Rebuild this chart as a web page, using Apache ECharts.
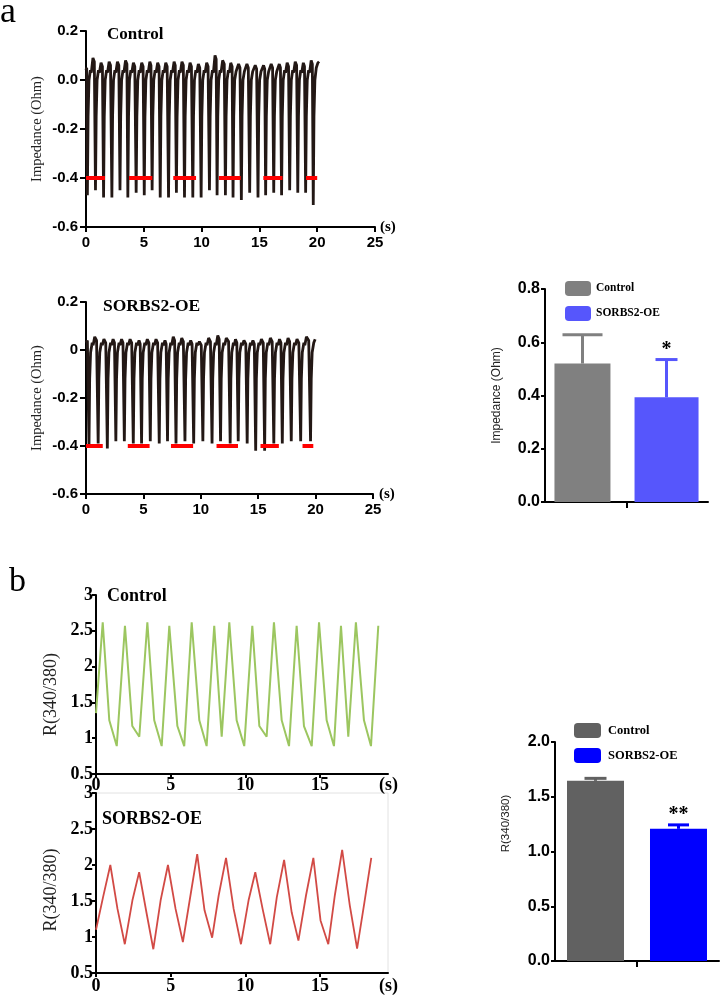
<!DOCTYPE html>
<html><head><meta charset="utf-8">
<script src="https://cdn.jsdelivr.net/npm/echarts@6/dist/echarts.min.js"></script>
<style>html,body{margin:0;padding:0;background:#fff}#c{width:722px;height:995px}</style>
</head><body><div id="c"></div>
<script>
const SERIF = "'Liberation Serif','Times New Roman',serif";
const SANS = "'Liberation Sans',Arial,Helvetica,sans-serif";

// ---------- data ----------
const groups = ['Control', 'SORBS2-OE'];

// Panel a: impedance traces [time (s), impedance (Ohm)]
const ctrlImpedance = [
[0,0.04],[0.06,0.05],
[0.12,-0.47],[0.18,-0.15],[0.26,0.0],[0.38,0.04],[0.46,0.03],[0.60,0.09],[0.72,0.075],
[0.82,-0.45],[0.88,-0.15],[0.96,0.0],[1.08,0.04],[1.16,0.03],[1.30,0.07],[1.42,0.055],
[1.52,-0.48],[1.58,-0.15],[1.66,0.0],[1.78,0.04],[1.86,0.03],[2.00,0.075],[2.12,0.06],
[2.24,-0.48],[2.30,-0.15],[2.38,0.0],[2.50,0.04],[2.58,0.03],[2.72,0.075],[2.84,0.06],
[2.94,-0.45],[3.00,-0.15],[3.08,0.0],[3.20,0.04],[3.28,0.03],[3.42,0.08],[3.54,0.065],
[3.62,-0.48],[3.68,-0.15],[3.76,0.0],[3.88,0.04],[3.96,0.03],[4.10,0.07],[4.22,0.055],
[4.34,-0.46],[4.40,-0.15],[4.48,0.0],[4.60,0.04],[4.68,0.03],[4.82,0.07],[4.94,0.055],
[5.04,-0.47],[5.10,-0.15],[5.18,0.0],[5.30,0.04],[5.38,0.03],[5.52,0.075],[5.62,0.06],
[5.72,-0.45],[5.78,-0.15],[5.86,0.0],[5.98,0.04],[6.06,0.03],[6.20,0.07],[6.32,0.055],
[6.42,-0.48],[6.48,-0.15],[6.56,0.0],[6.68,0.04],[6.76,0.03],[6.90,0.07],[7.02,0.055],
[7.14,-0.48],[7.20,-0.15],[7.28,0.0],[7.40,0.04],[7.48,0.03],[7.62,0.075],[7.72,0.06],
[7.82,-0.46],[7.88,-0.15],[7.96,0.0],[8.08,0.04],[8.16,0.03],[8.30,0.075],[8.42,0.06],
[8.52,-0.48],[8.58,-0.15],[8.66,0.0],[8.78,0.04],[8.86,0.03],[9.00,0.07],[9.12,0.055],
[9.24,-0.48],[9.30,-0.15],[9.38,0.0],[9.50,0.04],[9.58,0.03],[9.72,0.065],[9.84,0.05],
[9.96,-0.48],[10.02,-0.15],[10.10,0.0],[10.22,0.04],[10.30,0.03],[10.44,0.07],[10.56,0.055],
[10.68,-0.45],[10.74,-0.15],[10.82,0.0],[10.94,0.04],[11.02,0.03],[11.16,0.10],[11.26,0.085],
[11.34,-0.47],[11.40,-0.15],[11.48,0.0],[11.60,0.04],[11.68,0.03],[11.82,0.08],[11.96,0.065],
[12.06,-0.47],[12.12,-0.15],[12.20,0.0],[12.32,0.04],[12.40,0.03],[12.52,0.07],[12.64,0.055],
[12.72,-0.48],[12.78,-0.15],[12.86,0.0],[12.98,0.035],[13.06,0.03],[13.20,0.065],[13.32,0.05],
[13.44,-0.49],[13.50,-0.15],[13.58,0.0],[13.70,0.035],[13.78,0.03],[13.92,0.065],[14.04,0.05],
[14.16,-0.46],[14.22,-0.15],[14.30,0.0],[14.42,0.035],[14.50,0.03],[14.64,0.06],[14.76,0.045],
[14.88,-0.48],[14.94,-0.15],[15.02,0.0],[15.14,0.035],[15.22,0.03],[15.36,0.06],[15.46,0.045],
[15.54,-0.47],[15.60,-0.15],[15.68,0.0],[15.80,0.035],[15.88,0.03],[16.02,0.065],[16.14,0.05],
[16.24,-0.46],[16.30,-0.15],[16.38,0.0],[16.50,0.035],[16.58,0.03],[16.72,0.065],[16.82,0.05],
[16.92,-0.47],[16.98,-0.15],[17.06,0.0],[17.18,0.04],[17.26,0.03],[17.40,0.07],[17.52,0.055],
[17.62,-0.45],[17.68,-0.15],[17.76,0.0],[17.88,0.04],[17.96,0.03],[18.10,0.075],[18.22,0.06],
[18.32,-0.46],[18.38,-0.15],[18.46,0.0],[18.58,0.04],[18.66,0.03],[18.80,0.07],[18.90,0.055],
[19.00,-0.46],[19.06,-0.15],[19.14,0.0],[19.26,0.04],[19.34,0.03],[19.48,0.08],[19.58,0.065],
[19.66,-0.51],[19.72,-0.15],[19.80,0.0],[19.92,0.05],[20.06,0.07],[20.16,0.075]
];
const oeImpedance = [
[0,0.03],[0.12,0.04],
[0.26,-0.40],[0.32,-0.12],[0.40,-0.01],[0.54,0.03],[0.62,0.02],[0.76,0.055],[0.92,0.04],
[1.06,-0.39],[1.12,-0.12],[1.20,-0.01],[1.34,0.03],[1.42,0.02],[1.56,0.045],[1.72,0.03],
[1.86,-0.41],[1.92,-0.12],[2.00,-0.01],[2.14,0.03],[2.22,0.02],[2.36,0.045],[2.48,0.03],
[2.60,-0.38],[2.66,-0.12],[2.74,-0.01],[2.88,0.03],[2.96,0.02],[3.10,0.045],[3.22,0.03],
[3.34,-0.38],[3.40,-0.12],[3.48,-0.01],[3.62,0.03],[3.70,0.02],[3.84,0.045],[3.98,0.03],
[4.12,-0.39],[4.18,-0.12],[4.26,-0.01],[4.40,0.03],[4.48,0.02],[4.62,0.04],[4.72,0.025],
[4.84,-0.39],[4.90,-0.12],[4.98,-0.01],[5.12,0.03],[5.20,0.02],[5.34,0.045],[5.48,0.03],
[5.60,-0.38],[5.66,-0.12],[5.74,-0.01],[5.88,0.03],[5.96,0.02],[6.10,0.045],[6.24,0.03],
[6.38,-0.39],[6.44,-0.12],[6.52,-0.01],[6.66,0.03],[6.74,0.02],[6.88,0.04],[6.98,0.025],
[7.10,-0.38],[7.16,-0.12],[7.24,-0.01],[7.38,0.03],[7.46,0.02],[7.60,0.055],[7.72,0.04],
[7.84,-0.39],[7.90,-0.12],[7.98,-0.01],[8.12,0.03],[8.20,0.02],[8.34,0.05],[8.48,0.035],
[8.62,-0.38],[8.68,-0.12],[8.76,-0.01],[8.90,0.03],[8.98,0.02],[9.12,0.04],[9.24,0.025],
[9.38,-0.39],[9.44,-0.12],[9.52,-0.01],[9.66,0.03],[9.74,0.02],[9.88,0.035],[10.04,0.02],
[10.18,-0.38],[10.24,-0.12],[10.32,-0.01],[10.46,0.03],[10.54,0.02],[10.68,0.05],[10.84,0.035],
[10.98,-0.39],[11.04,-0.12],[11.12,-0.01],[11.26,0.03],[11.34,0.02],[11.48,0.06],[11.60,0.045],
[11.72,-0.38],[11.78,-0.12],[11.86,-0.01],[12.00,0.03],[12.08,0.02],[12.22,0.05],[12.42,0.035],
[12.56,-0.39],[12.62,-0.12],[12.70,-0.01],[12.84,0.03],[12.92,0.02],[13.02,0.045],[13.14,0.03],
[13.26,-0.38],[13.32,-0.12],[13.40,-0.01],[13.54,0.03],[13.62,0.02],[13.76,0.04],[13.92,0.025],
[14.04,-0.39],[14.10,-0.12],[14.18,-0.01],[14.32,0.03],[14.40,0.02],[14.54,0.04],[14.66,0.025],
[14.78,-0.42],[14.84,-0.12],[14.92,-0.01],[15.06,0.03],[15.14,0.02],[15.28,0.045],[15.44,0.03],
[15.56,-0.42],[15.62,-0.12],[15.70,-0.01],[15.84,0.03],[15.92,0.02],[16.06,0.05],[16.22,0.035],
[16.36,-0.39],[16.42,-0.12],[16.50,-0.01],[16.64,0.03],[16.72,0.02],[16.86,0.045],[16.98,0.03],
[17.10,-0.39],[17.16,-0.12],[17.24,-0.01],[17.38,0.03],[17.46,0.02],[17.60,0.05],[17.74,0.035],
[17.88,-0.38],[17.94,-0.12],[18.02,-0.01],[18.16,0.03],[18.24,0.02],[18.38,0.045],[18.54,0.03],
[18.70,-0.38],[18.76,-0.12],[18.84,-0.01],[18.98,0.03],[19.06,0.02],[19.20,0.055],[19.40,0.04],
[19.56,-0.38],[19.62,-0.12],[19.70,-0.01],[19.84,0.03],[19.96,0.045]
];
// stimulation periods (red bars) [start s, end s] drawn at level -0.4
const stimulusLevel = -0.4;
const ctrlStimulus = [[0,1.64],[3.72,5.74],[7.55,9.52],[11.5,13.38],[15.34,17.0],[19.03,20.0]];
const oeStimulus = [[0,1.46],[3.64,5.54],[7.4,9.33],[11.37,13.24],[15.2,16.8],[18.86,19.8]];

// Panel a bar chart
const impMean = [0.52, 0.393];
const impUpper = [0.628, 0.535];
const impSig = ['', '*'];

// Panel b: Ca2+ ratio traces
const ctrlRatioT = [0,0.45,0.89,1.39,1.94,2.43,2.90,3.44,3.90,4.40,4.91,5.45,5.91,6.41,6.92,7.41,7.92,8.42,8.93,9.42,9.93,10.47,10.94,11.43,11.92,12.44,12.93,13.44,13.93,14.45,14.94,15.45,15.94,16.41,16.90,17.41,17.95,18.42,18.91];
const ctrlRatioV = [1.35,2.62,1.25,0.89,2.57,1.17,1.02,2.62,1.25,0.89,2.57,1.17,0.89,2.62,1.25,0.89,2.57,1.02,2.62,1.25,0.89,2.57,1.17,1.02,2.62,1.25,0.89,2.57,1.17,0.89,2.62,1.25,0.89,2.57,1.02,2.62,1.25,0.89,2.57];
const oeRatioT = [0,0.47,0.96,1.44,1.93,2.44,2.89,3.38,3.84,4.33,4.82,5.33,5.82,6.33,6.78,7.27,7.78,8.22,8.71,9.22,9.71,10.22,10.67,11.16,11.67,12.11,12.60,13.11,13.56,14.07,14.56,15.04,15.56,16.00,16.49,17.00,17.49,17.98,18.44];
const oeRatioV = [1.1,1.55,2.0,1.39,0.9,1.51,1.9,1.34,0.83,1.51,2.0,1.39,0.93,1.58,2.15,1.37,0.99,1.58,2.1,1.39,0.9,1.51,1.9,1.39,0.9,1.55,2.07,1.34,0.95,1.58,2.1,1.23,0.9,1.58,2.21,1.44,0.84,1.48,2.1];

// Panel b bar chart
const ratioMean = [1.645, 1.207];
const ratioUpper = [1.668, 1.243];
const ratioSig = ['', '**'];

const ratioXTicks = [0, 5, 10, 15];

// ---------- chart ----------
const chart = echarts.init(document.getElementById('c'), null, {renderer: 'canvas'});
const lineAx = {show: true, onZero: false, lineStyle: {color: '#000', width: 2}};
const tickAx = (len) => ({show: true, length: len, lineStyle: {color: '#000', width: 2}});
const zip = (t, v) => t.map((x, i) => [x, v[i]]);

function errSeries(xIdx, yIdx, mean, upper, sig, colors, offsets, caps) {
  return {
    type: 'custom', xAxisIndex: xIdx, yAxisIndex: yIdx, silent: true, z: 3,
    data: mean.map((m, i) => [0, m, upper[i], i]),
    renderItem: function (params, api) {
      const i = api.value(3);
      const b = api.coord([0, api.value(1)]);
      const t = api.coord([0, api.value(2)]);
      const x = b[0] + offsets[i];
      const children = [
        {type: 'line', shape: {x1: x, y1: b[1], x2: x, y2: t[1]}, style: {stroke: colors[i], lineWidth: 3}},
        {type: 'line', shape: {x1: x - caps[i] / 2, y1: t[1], x2: x + caps[i] / 2, y2: t[1]}, style: {stroke: colors[i], lineWidth: 3}}
      ];
      if (sig[i]) children.push({type: 'text', style: {text: sig[i], x: x, y: t[1], align: 'center', verticalAlign: 'bottom', font: 'bold 20px ' + SERIF, fill: '#000'}});
      return {type: 'group', children: children};
    }
  };
}

const impColors = ['#808080', '#5656fc'];
const ratioColors = ['#616161', '#0000ff'];

const option = {
  animation: false,
  backgroundColor: '#fff',
  grid: [
    {left: 86, top: 31, width: 289, height: 196},
    {left: 86, top: 302, width: 287, height: 192},
    {left: 545, top: 289, width: 163, height: 213},
    {left: 96, top: 595, width: 292, height: 179},
    {left: 96, top: 793, width: 292, height: 180, show: true, borderColor: '#e2e2e2', borderWidth: 1},
    {left: 555, top: 742, width: 164, height: 219}
  ],
  legend: [
    {data: groups, left: 565, top: 281, orient: 'vertical', itemWidth: 26, itemHeight: 15, itemGap: 10, icon: 'roundRect', padding: 0,
     selectedMode: false, textStyle: {fontFamily: SERIF, fontWeight: 'bold', fontSize: 11.5, color: '#000'}},
    {data: groups.map(g => g + ' '), left: 574, top: 723, orient: 'vertical', itemWidth: 27, itemHeight: 15, itemGap: 10, icon: 'roundRect', padding: 0,
     selectedMode: false, textStyle: {fontFamily: SERIF, fontWeight: 'bold', fontSize: 12.5, color: '#000', padding: [0, 0, 0, 2]}}
  ],
  xAxis: [
    {gridIndex: 0, type: 'value', min: 0, max: 25, interval: 5, axisLine: lineAx, axisTick: tickAx(5), splitLine: {show: false},
     axisLabel: {fontFamily: SANS, fontWeight: 'bold', fontSize: 15, color: '#000', margin: 8},
     name: '(s)', nameLocation: 'end', nameGap: 5, nameTextStyle: {fontFamily: SERIF, fontWeight: 'bold', fontSize: 15, color: '#000'}},
    {gridIndex: 1, type: 'value', min: 0, max: 25, interval: 5, axisLine: lineAx, axisTick: tickAx(5), splitLine: {show: false},
     axisLabel: {fontFamily: SANS, fontWeight: 'bold', fontSize: 15, color: '#000', margin: 8},
     name: '(s)', nameLocation: 'end', nameGap: 6, nameTextStyle: {fontFamily: SERIF, fontWeight: 'bold', fontSize: 15, color: '#000', padding: [0, 0, 8, 0]}},
    {gridIndex: 2, type: 'category', data: [''], axisLine: lineAx, axisTick: {show: true, alignWithLabel: true, length: 6, lineStyle: {color: '#000', width: 2}}, axisLabel: {show: false}},
    {gridIndex: 3, type: 'value', min: 0, max: 19.56, axisLine: lineAx, splitLine: {show: false},
     axisTick: {show: true, length: 4, customValues: ratioXTicks, lineStyle: {color: '#000', width: 2}},
     axisLabel: {customValues: ratioXTicks, fontFamily: SERIF, fontWeight: 'bold', fontSize: 18, color: '#000', margin: 2},
     name: '(s)', nameLocation: 'end', nameGap: -9, nameTextStyle: {fontFamily: SERIF, fontWeight: 'bold', fontSize: 18, color: '#000', verticalAlign: 'top', padding: [2, 0, 0, 0]}},
    {gridIndex: 4, type: 'value', min: 0, max: 19.56, axisLine: lineAx, splitLine: {show: false},
     axisTick: {show: true, length: 4, customValues: ratioXTicks, lineStyle: {color: '#000', width: 2}},
     axisLabel: {customValues: ratioXTicks, fontFamily: SERIF, fontWeight: 'bold', fontSize: 18, color: '#000', margin: 4},
     name: '(s)', nameLocation: 'end', nameGap: -9, nameTextStyle: {fontFamily: SERIF, fontWeight: 'bold', fontSize: 18, color: '#000', verticalAlign: 'top', padding: [4, 0, 0, 0]}},
    {gridIndex: 5, type: 'category', data: [''], axisLine: lineAx, axisTick: {show: true, alignWithLabel: true, length: 6, lineStyle: {color: '#000', width: 2}}, axisLabel: {show: false}}
  ],
  yAxis: [
    {gridIndex: 0, type: 'value', min: -0.6, max: 0.2, interval: 0.2, axisLine: lineAx, axisTick: tickAx(6), splitLine: {show: false},
     axisLabel: {fontFamily: SANS, fontWeight: 'bold', fontSize: 15, color: '#000', margin: 8, formatter: v => v.toFixed(1)},
     name: 'Impedance (Ohm)', nameLocation: 'middle', nameGap: 41, nameTextStyle: {fontFamily: SERIF, fontSize: 14.5, color: '#222'}},
    {gridIndex: 1, type: 'value', min: -0.6, max: 0.2, interval: 0.2, axisLine: lineAx, axisTick: tickAx(6), splitLine: {show: false},
     axisLabel: {fontFamily: SANS, fontWeight: 'bold', fontSize: 15, color: '#000', margin: 8, formatter: v => Math.abs(v) < 1e-9 ? '0' : v.toFixed(1)},
     name: 'Impedance (Ohm)', nameLocation: 'middle', nameGap: 41, nameTextStyle: {fontFamily: SERIF, fontSize: 14.5, color: '#222'}},
    {gridIndex: 2, type: 'value', min: 0, max: 0.8, interval: 0.2, axisLine: lineAx, axisTick: tickAx(4), splitLine: {show: false},
     axisLabel: {fontFamily: SANS, fontWeight: 'bold', fontSize: 16, color: '#000', margin: 5, formatter: v => v.toFixed(1)},
     name: 'Impedance (Ohm)', nameLocation: 'middle', nameGap: 42, nameTextStyle: {fontFamily: SANS, fontSize: 12, color: '#222'}},
    {gridIndex: 3, type: 'value', min: 0.5, max: 3, interval: 0.5, axisLine: lineAx, axisTick: tickAx(4), splitLine: {show: false},
     axisLabel: {fontFamily: SERIF, fontWeight: 'bold', fontSize: 18, color: '#000', margin: 3},
     name: 'R(340/380)', nameLocation: 'middle', nameGap: 36, nameTextStyle: {fontFamily: SERIF, fontSize: 18, color: '#222', padding: [0, 20, 0, 0]}},
    {gridIndex: 4, type: 'value', min: 0.5, max: 3, interval: 0.5, axisLine: lineAx, axisTick: tickAx(4), splitLine: {show: false},
     axisLabel: {fontFamily: SERIF, fontWeight: 'bold', fontSize: 18, color: '#000', margin: 3},
     name: 'R(340/380)', nameLocation: 'middle', nameGap: 36, nameTextStyle: {fontFamily: SERIF, fontSize: 18, color: '#222', padding: [0, 14, 0, 0]}},
    {gridIndex: 5, type: 'value', min: 0, max: 2, interval: 0.5, axisLine: lineAx, axisTick: tickAx(4), splitLine: {show: false},
     axisLabel: {fontFamily: SANS, fontWeight: 'bold', fontSize: 16, color: '#000', margin: 5, formatter: v => v.toFixed(1)},
     name: 'R(340/380)', nameLocation: 'middle', nameGap: 43, nameTextStyle: {fontFamily: SANS, fontSize: 11.5, color: '#222', padding: [0, 0, 0, 56]}}
  ],
  series: [
    {type: 'line', xAxisIndex: 0, yAxisIndex: 0, data: ctrlImpedance, showSymbol: false, silent: true,
     lineStyle: {color: '#231815', width: 2.8}, itemStyle: {color: '#231815'},
     markLine: {silent: true, symbol: ['none', 'none'], label: {show: false}, animation: false,
       lineStyle: {color: '#ff0000', width: 4, type: 'solid'},
       data: ctrlStimulus.map(s => [{coord: [s[0], stimulusLevel]}, {coord: [s[1], stimulusLevel]}])}},
    {type: 'line', xAxisIndex: 1, yAxisIndex: 1, data: oeImpedance, showSymbol: false, silent: true,
     lineStyle: {color: '#231815', width: 2.8}, itemStyle: {color: '#231815'},
     markLine: {silent: true, symbol: ['none', 'none'], label: {show: false}, animation: false,
       lineStyle: {color: '#ff0000', width: 4, type: 'solid'},
       data: oeStimulus.map(s => [{coord: [s[0], stimulusLevel]}, {coord: [s[1], stimulusLevel]}])}},
    {type: 'bar', name: groups[0], xAxisIndex: 2, yAxisIndex: 2, data: [impMean[0]], barWidth: 56, barGap: '43%', itemStyle: {color: impColors[0]}},
    {type: 'bar', name: groups[1], xAxisIndex: 2, yAxisIndex: 2, data: [impMean[1]], barWidth: 64, barGap: '43%', itemStyle: {color: impColors[1]}},
    errSeries(2, 2, impMean, impUpper, impSig, impColors, [-44, 40], [40, 22]),
    {type: 'line', xAxisIndex: 3, yAxisIndex: 3, data: zip(ctrlRatioT, ctrlRatioV), showSymbol: false, silent: true,
     lineStyle: {color: '#9cc660', width: 2}},
    {type: 'line', xAxisIndex: 4, yAxisIndex: 4, data: zip(oeRatioT, oeRatioV), showSymbol: false, silent: true,
     lineStyle: {color: '#d24a45', width: 1.8}},
    {type: 'bar', name: groups[0] + ' ', xAxisIndex: 5, yAxisIndex: 5, data: [ratioMean[0]], barWidth: 57, barGap: '45.6%', itemStyle: {color: ratioColors[0]}},
    {type: 'bar', name: groups[1] + ' ', xAxisIndex: 5, yAxisIndex: 5, data: [ratioMean[1]], barWidth: 57, barGap: '45.6%', itemStyle: {color: ratioColors[1]}},
    errSeries(5, 5, ratioMean, ratioUpper, ratioSig, ratioColors, [-41.5, 41.5], [22, 21])
  ],
  graphic: [
    {type: 'text', left: 0, top: -5, style: {text: 'a', font: '36px ' + SERIF, fill: '#000'}},
    {type: 'text', left: 9, top: 565, style: {text: 'b', font: '34px ' + SERIF, fill: '#000'}},
    {type: 'text', left: 107, top: 26, style: {text: 'Control', font: 'bold 17px ' + SERIF, fill: '#000'}},
    {type: 'text', left: 103, top: 297, style: {text: 'SORBS2-OE', font: 'bold 17.5px ' + SERIF, fill: '#000'}},
    {type: 'text', left: 107, top: 587, style: {text: 'Control', font: 'bold 18px ' + SERIF, fill: '#000'}},
    {type: 'text', left: 102, top: 810, style: {text: 'SORBS2-OE', font: 'bold 18px ' + SERIF, fill: '#000'}}
  ]
};
chart.setOption(option);
</script>
</body></html>
